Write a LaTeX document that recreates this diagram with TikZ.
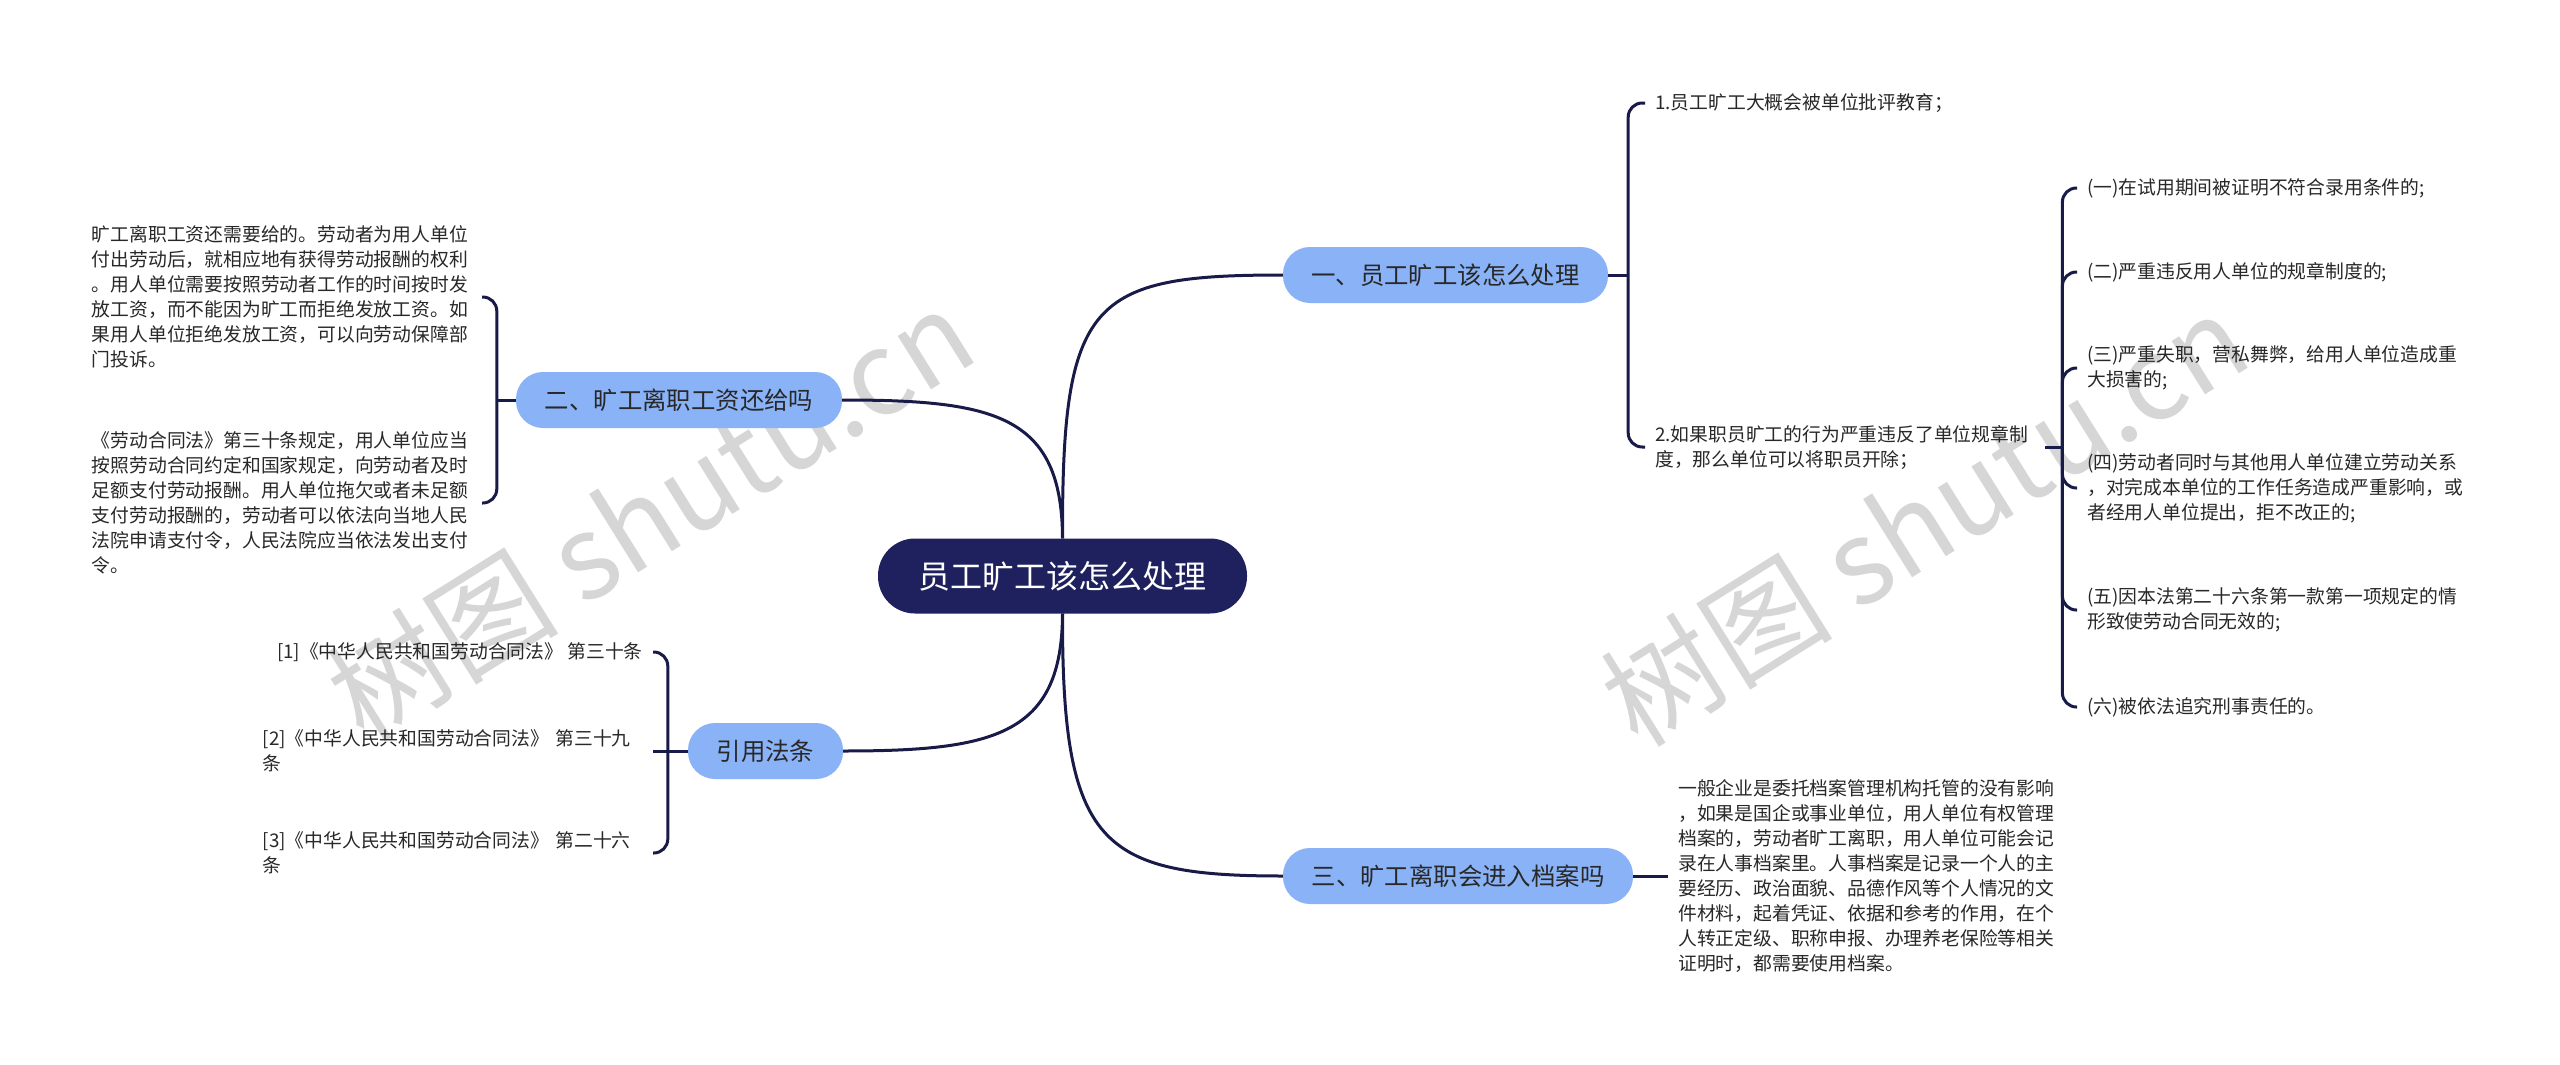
\documentclass[tikz,border=0pt]{standalone}
\usepackage{fontspec}
\setmainfont{Noto Sans CJK SC}
\definecolor{navy}{RGB}{31,33,94}
\definecolor{lnk}{RGB}{24,26,72}
\definecolor{bl}{RGB}{138,178,246}
\definecolor{txt}{RGB}{40,40,40}
\begin{document}
\begin{tikzpicture}[x=1pt,y=-1pt,
  link/.style={draw=lnk, line width=3pt},
  brk/.style={link, rounded corners=14pt},
  rootnode/.style={fill=navy, text=white, rounded corners=37pt, minimum width=369pt, minimum height=75pt, font=\fontsize{32}{36}\selectfont, inner sep=0pt},
  branch/.style={fill=bl, text=txt, rounded corners=27pt, minimum height=56pt, font=\fontsize{24.4}{28}\selectfont, inner sep=0pt},
  leaf/.style={text=txt, font=\fontsize{18.8}{25}\selectfont, inner xsep=10pt, inner ysep=2pt, align=left},
  wm/.style={text=black!16, rotate=32, font=\fontsize{116}{116}\selectfont}
]
\fill[white] (0,0) rectangle (2560,1065);
\useasboundingbox (0,0) rectangle (2560,1065);

% watermarks
\node[wm] (w1) at (650,514) {树图 shutu.cn};
\node[wm] (w2) at (1924,519) {树图 shutu.cn};

% main nodes
\node[rootnode] (root) at (1062.5,576) {员工旷工该怎么处理};
\node[branch, minimum width=325pt] (b1) at (1445.5,275) {一、员工旷工该怎么处理};
\node[branch, minimum width=326pt] (b2) at (679,400) {二、旷工离职工资还给吗};
\node[branch, minimum width=155pt] (b4) at (765.5,751) {引用法条};
\node[branch, minimum width=350pt] (b3) at (1458,876) {三、旷工离职会进入档案吗};

% branch 1 leaves
\node[leaf, anchor=west] (c1) at (1645,103) {1.员工旷工大概会被单位批评教育；};
\node[leaf, anchor=west, text width=380pt] (c2) at (1645,447) {2.如果职员旷工的行为严重违反了单位规章制\\度，那么单位可以将职员开除；};

\node[leaf, anchor=west] (d1) at (2077,188) {(一)在试用期间被证明不符合录用条件的;};
\node[leaf, anchor=west] (d2) at (2077,272) {(二)严重违反用人单位的规章制度的;};
\node[leaf, anchor=west, text width=385pt] (d3) at (2077,368) {(三)严重失职，营私舞弊，给用人单位造成重\\大损害的;};
\node[leaf, anchor=west, text width=385pt] (d4) at (2077,488) {(四)劳动者同时与其他用人单位建立劳动关系\\，对完成本单位的工作任务造成严重影响，或\\者经用人单位提出，拒不改正的;};
\node[leaf, anchor=west, text width=385pt] (d5) at (2077,610) {(五)因本法第二十六条第一款第一项规定的情\\形致使劳动合同无效的;};
\node[leaf, anchor=west] (d6) at (2077,707) {(六)被依法追究刑事责任的。};

% branch 2 leaves
\node[leaf, anchor=east, text width=380pt] (e1) at (482,297) {旷工离职工资还需要给的。劳动者为用人单位\\付出劳动后，就相应地有获得劳动报酬的权利\\。用人单位需要按照劳动者工作的时间按时发\\放工资，而不能因为旷工而拒绝发放工资。如\\果用人单位拒绝发放工资，可以向劳动保障部\\门投诉。};
\node[leaf, anchor=east, text width=380pt] (e2) at (482,503) {《劳动合同法》第三十条规定，用人单位应当\\按照劳动合同约定和国家规定，向劳动者及时\\足额支付劳动报酬。用人单位拖欠或者未足额\\支付劳动报酬的，劳动者可以依法向当地人民\\法院申请支付令，人民法院应当依法发出支付\\令。};

% citations
\node[leaf, anchor=east] (f1) at (653,652) {[1]《中华人民共和国劳动合同法》 第三十条};
\node[leaf, anchor=east, text width=380pt] (f2) at (653,751) {[2]《中华人民共和国劳动合同法》 第三十九\\条};
\node[leaf, anchor=east, text width=380pt] (f3) at (653,853) {[3]《中华人民共和国劳动合同法》 第二十六\\条};

% branch 3 leaf
\node[leaf, anchor=west, text width=385pt] (g1) at (1668,876) {一般企业是委托档案管理机构托管的没有影响\\，如果是国企或事业单位，用人单位有权管理\\档案的，劳动者旷工离职，用人单位可能会记\\录在人事档案里。人事档案是记录一个人的主\\要经历、政治面貌、品德作风等个人情况的文\\件材料，起着凭证、依据和参考的作用，在个\\人转正定级、职称申报、办理养老保险等相关\\证明时，都需要使用档案。};

% root connectors
\draw[link] (root.north) .. controls (1062,300) and (1090,275) .. (b1.west);
\draw[link] (root.north) .. controls (1062,415) and (995,400) .. (b2.east);
\draw[link] (root.south) .. controls (1062,735) and (995,751) .. (b4.east);
\draw[link] (root.south) .. controls (1062,845) and (1100,876) .. (b3.west);

% brackets
\draw[link] (b1.east) -- ++(20,0) coordinate (j1);
\draw[brk] (j1) |- (c1.west);
\draw[brk] (j1) |- (c2.west);

\draw[link] (c2.east) -- ++(17,0) coordinate (j2);
\foreach \n in {d1,d2,d3,d4,d5,d6} \draw[brk] (j2) |- (\n.west);

\draw[link] (b2.west) -- ++(-19,0) coordinate (j3);
\draw[brk] (j3) |- (e1.east);
\draw[brk] (j3) |- (e2.east);

\draw[link] (b4.west) -- ++(-20,0) coordinate (j4);
\draw[brk] (j4) |- (f1.east);
\draw[link] (j4) -- (f2.east);
\draw[brk] (j4) |- (f3.east);

\draw[link] (b3.east) -- (g1.west);
\end{tikzpicture}
\end{document}
